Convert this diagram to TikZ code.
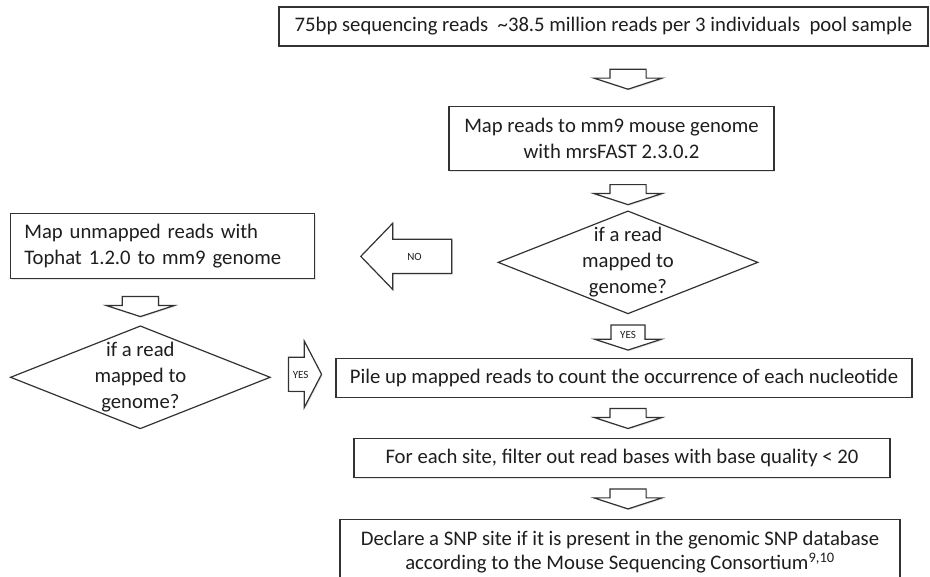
\documentclass[tikz,border=0pt]{standalone}
\usepackage{fontspec}
\setmainfont{Carlito}
\usetikzlibrary{positioning,shapes.geometric,shapes.arrows,shadows}
\definecolor{fline}{RGB}{50,50,50}
\definecolor{ftext}{RGB}{30,30,30}

\begin{document}
\begin{tikzpicture}[x=1pt,y=-1pt,font=\fontsize{20.7}{26}\selectfont,text=ftext,
    every node/.style={draw=fline,line width=1.2pt,align=center,inner sep=0pt},
    softshadow/.style={drop shadow={opacity=0.2,shadow xshift=1.2pt,shadow yshift=-1.2pt}},
    stepbox/.style={rectangle,fill=white,softshadow},
    ask/.style={diamond,minimum width=260pt,minimum height=103pt},
    asktext/.style={draw=none,align=center},
    blockarr/.style={single arrow,fill=white,softshadow,single arrow head extend=16pt,single arrow head indent=0pt},
    downarr/.style={blockarr,shape border rotate=270,minimum height=20pt,minimum width=67pt,single arrow tip angle=144,inner xsep=17.5pt,inner ysep=0pt},
    sidearr/.style={blockarr,minimum width=65pt,inner xsep=1pt,inner ysep=12.5pt},
    yesno/.style={font=\fontsize{11}{13}\selectfont,text height=8pt,text depth=0pt}]
    \useasboundingbox (0,0) rectangle (930,577);
    % main column
    \node[stepbox,minimum width=649pt,minimum height=39pt] (reads) at (603.5,26.5) {75bp sequencing reads\ \ \textasciitilde38.5 million reads per 3 individuals\ \ pool sample};
    \node[downarr,below=22pt of reads,xshift=24.5pt] (arr1) {};
    \node[stepbox,minimum width=325pt,minimum height=64pt,below=16pt of arr1,xshift=-16.5pt] (mapfast) {Map reads to mm9 mouse genome\\with mrsFAST 2.3.0.2};
    \node[downarr,below=13pt of mapfast,xshift=16.5pt] (arr2) {};
    \node[ask,below=5pt of arr2,label={[asktext]center:{if a read\\mapped to\\genome?}}] (mapped1) {};
    \node[downarr,yesno,minimum height=25pt,inner xsep=8pt,below=10pt of mapped1] (yes1) {YES};
    \node[stepbox,minimum width=576pt,minimum height=39pt,below=7pt of yes1,xshift=-4pt] (pileup) {Pile up mapped reads to count the occurrence of each nucleotide};
    \node[downarr,below=10pt of pileup,xshift=4pt] (arr3) {};
    \node[stepbox,minimum width=536pt,minimum height=39pt,below=9pt of arr3,xshift=-6pt] (filter) {For each site, filter out read bases with base quality < 20};
    \node[downarr,below=10pt of filter,xshift=6pt] (arr4) {};
    \node[stepbox,minimum width=560pt,minimum height=66pt,font=\fontsize{20.7}{24.5}\selectfont,below=9pt of arr4,xshift=-8pt] (declare) {Declare a SNP site if it is present in the genomic SNP database\\according to the Mouse Sequencing Consortium\textsuperscript{9,10}};
    % unmapped branch
    \node[sidearr,yesno,shape border rotate=180,minimum height=91pt,single arrow tip angle=92,left=45pt of mapped1,yshift=6pt] (no1) {NO};
    \node[stepbox,minimum width=304pt,minimum height=65pt,text width=276pt,align=left,left=45pt of no1,yshift=10.5pt] (unmapped) {Map unmapped reads with\\Tophat 1.2.0 to mm9 genome};
    \node[downarr,below=17pt of unmapped,xshift=-22pt] (arr5) {};
    \node[ask,below=8pt of arr5,label={[asktext]center:{if a read\\mapped to\\genome?}}] (mapped2) {};
    \node[sidearr,yesno,minimum height=33pt,single arrow tip angle=125,right=17pt of mapped2,yshift=3pt] (yes2) {YES};
  \end{tikzpicture}
\end{document}
